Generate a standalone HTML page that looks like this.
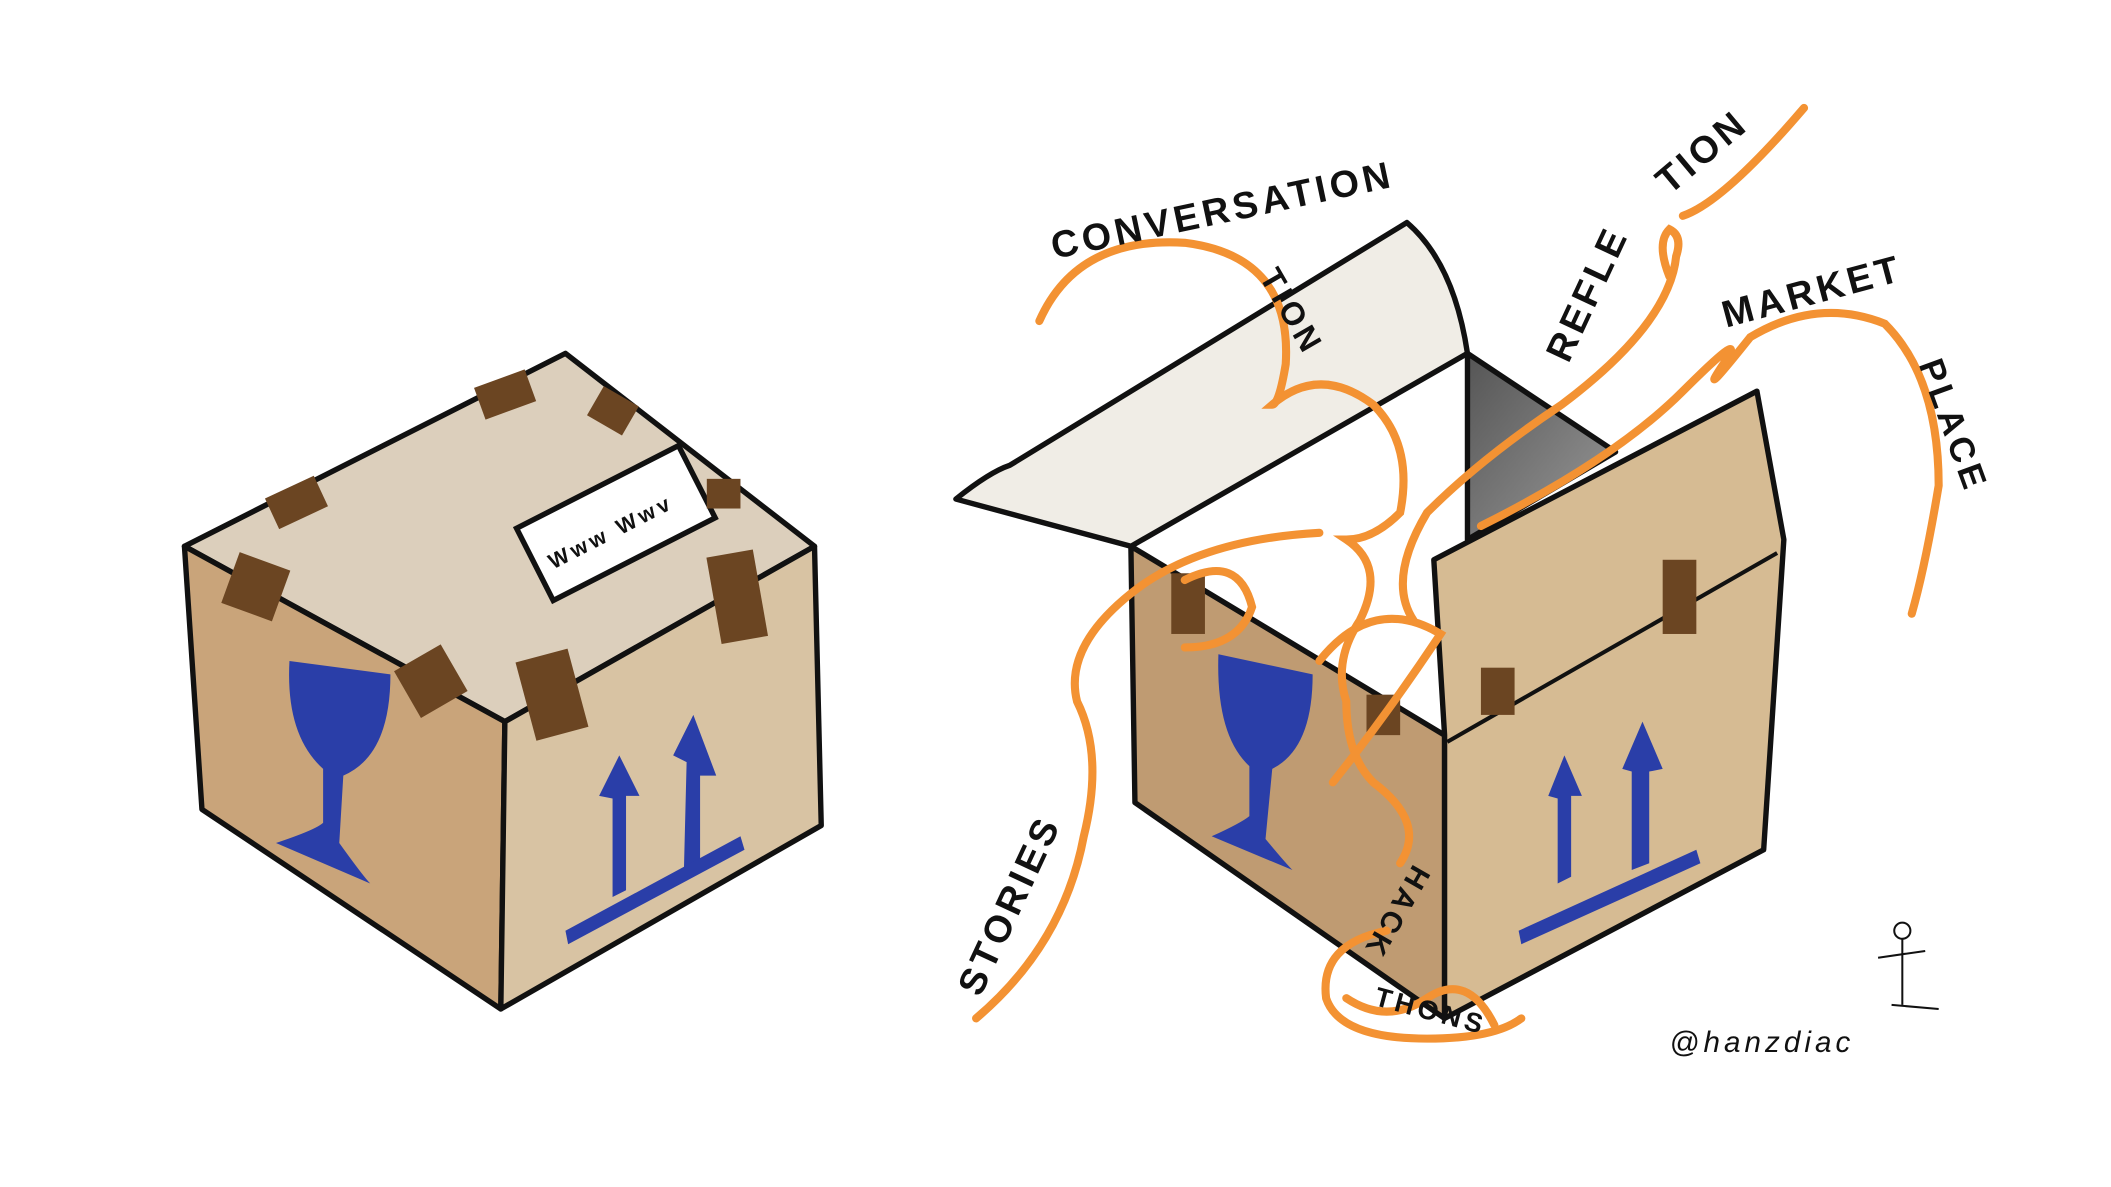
<!DOCTYPE html>
<html><head><meta charset="utf-8"><style>
html,body{margin:0;padding:0;background:#fff;width:2111px;height:1187px;overflow:hidden}
svg{display:block}
text{font-family:"Liberation Sans",sans-serif;font-weight:bold;fill:#111;letter-spacing:3px}
</style></head><body>
<svg width="2111" height="1187" viewBox="0 0 1568 880" preserveAspectRatio="none">
<defs><linearGradient id="dk" x1="0" y1="0" x2="1" y2="1"><stop offset="0" stop-color="#555"/><stop offset="1" stop-color="#9a9a9a"/></linearGradient></defs>
<rect width="1568" height="880" fill="#fff"/>
<!-- LEFT BOX -->
<g stroke="#111" stroke-width="4" stroke-linejoin="round">
<polygon points="137,405 420,262 605,405 375,535" fill="#dccfbc"/>
<polygon points="137,405 375,535 372,748 150,600" fill="#c9a47a"/>
<polygon points="375,535 605,405 610,612 372,748" fill="#d8c3a3"/>
</g>
<rect x="390" y="358" width="135" height="60" transform="rotate(-27 457 388)" fill="#fff" stroke="#111" stroke-width="4"/>
<text x="405" y="402" font-size="16" transform="rotate(-27 450 400)" letter-spacing="0">Www Wwv</text>
<g fill="#6b4522">
<rect x="355" y="280" width="40" height="25" transform="rotate(-20 375 292)"/>
<rect x="440" y="292" width="30" height="25" transform="rotate(30 455 305)"/>
<rect x="200" y="360" width="40" height="25" transform="rotate(-25 220 372)"/>
<rect x="525" y="355" width="25" height="22"/>
<rect x="170" y="415" width="40" height="40" transform="rotate(20 190 435)"/>
<rect x="530" y="410" width="35" height="65" transform="rotate(-10 547 442)"/>
<rect x="300" y="485" width="40" height="40" transform="rotate(-30 320 505)"/>
<rect x="390" y="485" width="40" height="60" transform="rotate(-15 410 515)"/>
</g>
<g fill="#2a3ea8">
<path d="M215,490 L290,500 Q290,560 255,575 L252,625 Q270,650 275,655 L205,625 Q235,615 240,610 L240,570 Q212,545 215,490Z"/>
<polygon points="445,590 460,560 475,590 465,590 465,660 455,665 455,592"/>
<polygon points="500,560 515,530 532,575 520,575 520,640 508,645 510,565"/>
<polygon points="420,690 550,620 553,630 422,700"/>
</g>
<!-- RIGHT BOX -->
<g stroke="#111" stroke-width="4" stroke-linejoin="round">
<path d="M710,370 Q735,350 750,345 L1045,165 Q1080,195 1090,262 L840,405Z" fill="#f0ede6"/>
<polygon points="1090,262 1200,335 1090,400" fill="url(#dk)"/>
<polygon points="840,405 1073,545 1073,755 843,595" fill="#bf9b72"/>
<polygon points="1065,415 1305,290 1325,400 1310,630 1073,755 1073,545" fill="#d6bb93"/>
</g>
<line x1="1075" y1="550" x2="1320" y2="410" stroke="#111" stroke-width="3"/>
<g fill="#6b4522">
<rect x="870" y="425" width="25" height="45"/>
<rect x="1015" y="515" width="25" height="30"/>
<rect x="1100" y="495" width="25" height="35"/>
<rect x="1235" y="415" width="25" height="55"/>
</g>
<g fill="#2a3ea8">
<path d="M905,485 L975,500 Q975,555 945,570 L940,622 Q955,640 960,645 L900,620 Q922,610 928,605 L928,568 Q903,545 905,485Z"/>
<polygon points="1150,590 1162,560 1175,590 1167,590 1167,650 1157,655 1157,592"/>
<polygon points="1205,570 1220,535 1235,570 1225,572 1225,640 1212,645 1212,572"/>
<polygon points="1128,690 1260,630 1263,640 1130,700"/>
</g>
<!-- ORANGE -->
<g fill="none" stroke="#f39233" stroke-width="6" stroke-linecap="round">
<path d="M772,238 Q800,175 880,180 Q960,190 955,270 Q950,300 945,300 Q980,270 1020,300 Q1050,330 1040,380 Q1020,400 1000,400 Q1030,420 1010,460 Q990,490 1000,520 Q1000,560 1020,580 Q1060,610 1040,640"/>
<path d="M1240,205 Q1230,180 1240,170 Q1250,175 1245,190 Q1240,240 1160,300 Q1100,340 1060,380 Q1030,430 1050,460"/>
<path d="M1340,80 Q1280,150 1250,160"/>
<path d="M1100,390 Q1200,340 1250,290 Q1300,240 1280,270 Q1260,300 1300,250 Q1350,220 1400,240 Q1440,280 1440,360 Q1430,420 1420,455"/>
<path d="M725,755 Q790,700 805,620 Q820,560 800,520 Q790,480 840,440 Q890,400 980,395"/>
<path d="M880,430 Q920,410 930,450 Q920,480 880,480"/>
<path d="M990,580 Q1030,530 1070,470 Q1020,440 980,490"/>
<path d="M1030,690 Q980,700 985,740 Q995,770 1060,770 Q1110,770 1130,755"/>
<path d="M1000,740 Q1030,760 1060,740 Q1090,720 1110,760"/>
</g>
<!-- LABELS -->
<text x="783" y="192" font-size="28" transform="rotate(-12 783 192)">CONVERSATION</text>
<text x="935" y="205" font-size="24" transform="rotate(60 935 205)">TION</text>
<text x="1165" y="270" font-size="28" transform="rotate(-65 1165 270)">REFLE</text>
<text x="1240" y="145" font-size="28" transform="rotate(-40 1240 145)">TION</text>
<text x="1282" y="243" font-size="28" transform="rotate(-15 1282 243)">MARKET</text>
<text x="1425" y="270" font-size="26" transform="rotate(70 1425 270)">PLACE</text>
<text x="728" y="740" font-size="28" transform="rotate(-65 728 740)">STORIES</text>
<text x="1050" y="640" font-size="22" transform="rotate(120 1050 640)">HACK</text>
<text x="1020" y="745" font-size="20" transform="rotate(15 1020 745)">THONS</text>
<text x="1240" y="780" font-size="22" letter-spacing="1" style="font-weight:normal;font-style:italic">@hanzdiac</text>
<g stroke="#111" stroke-width="1.5" fill="none">
<circle cx="1413" cy="690" r="6"/><line x1="1413" y1="696" x2="1413" y2="745"/>
<line x1="1395" y1="710" x2="1430" y2="705"/><line x1="1405" y1="745" x2="1440" y2="748"/>
</g>
</svg>
</body></html>
